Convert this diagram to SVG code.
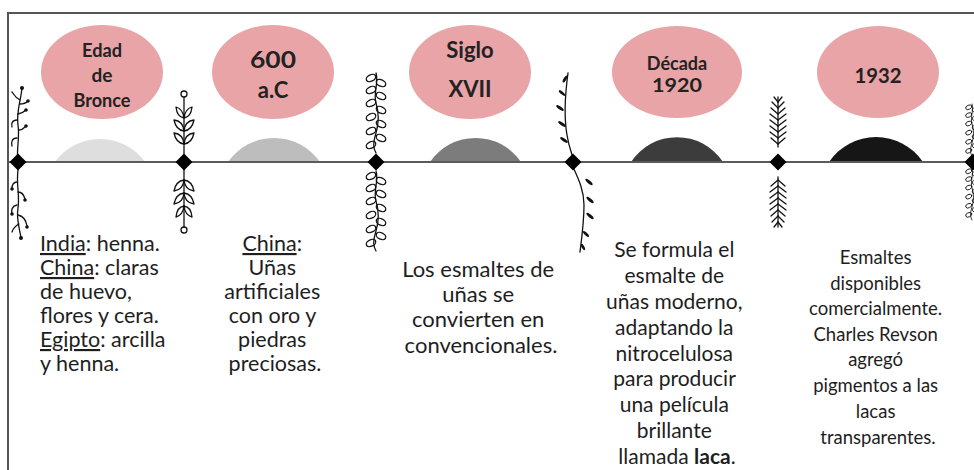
<svg xmlns="http://www.w3.org/2000/svg" width="974" height="470" viewBox="0 0 974 470">
  <style>
    .frame { fill: none; stroke: #555; stroke-width: 2; }
    .bubble { fill: #e9a4a7; }
    .label { font-family: Lato, "Noto Sans", sans-serif; font-weight: 700; fill: #222; text-anchor: middle; }
    .body { font-family: Lato, "Noto Sans", sans-serif; fill: #1e1e1e; }
    .mid { text-anchor: middle; }
    .axis { stroke: #5a5a5a; stroke-width: 1.8; fill: none; }
    .knot { fill: #000; }
    .ink { fill: none; stroke: #111; stroke-width: 1.3; stroke-linecap: round; stroke-linejoin: round; }
    .inkfill { fill: #111; stroke: none; }
    .u { text-decoration: underline; }
  </style>
  <defs>
    <!-- looping vine, drawn downward from 0 to 80 -->
    <g id="vine">
      <path class="ink" d="M0,0 C3,10 -3,20 0,30 S3,50 0,60 S-3,75 0,80"/>
      <ellipse class="ink" cx="-5" cy="5" rx="5" ry="3.2" transform="rotate(-25 -5 5)"/>
      <ellipse class="ink" cx="5" cy="10" rx="5" ry="3.2" transform="rotate(25 5 10)"/>
      <ellipse class="ink" cx="-5" cy="17" rx="5" ry="3.2" transform="rotate(-25 -5 17)"/>
      <ellipse class="ink" cx="5" cy="23" rx="5" ry="3.2" transform="rotate(25 5 23)"/>
      <ellipse class="ink" cx="-5" cy="30" rx="5" ry="3.2" transform="rotate(-25 -5 30)"/>
      <ellipse class="ink" cx="5" cy="37" rx="5" ry="3.2" transform="rotate(25 5 37)"/>
      <ellipse class="ink" cx="-5" cy="44" rx="5" ry="3.2" transform="rotate(-25 -5 44)"/>
      <ellipse class="ink" cx="5" cy="51" rx="5" ry="3.2" transform="rotate(25 5 51)"/>
      <ellipse class="ink" cx="-5" cy="58" rx="5" ry="3.2" transform="rotate(-25 -5 58)"/>
      <ellipse class="ink" cx="5" cy="65" rx="5" ry="3.2" transform="rotate(25 5 65)"/>
      <ellipse class="ink" cx="-5" cy="72" rx="5" ry="3.2" transform="rotate(-25 -5 72)"/>
    </g>
    <!-- leafy sprig growing upward from 0 -->
    <g id="sprig">
      <path class="ink" d="M0,0 V-59"/>
      <circle class="ink" cx="0" cy="-62" r="3"/>
      <path class="ink" d="M0,-12 Q1,-22 10,-23 Q8,-13 0,-12 Z"/>
      <path class="ink" d="M0,-12 Q-1,-22 -10,-23 Q-8,-13 0,-12 Z"/>
      <path class="ink" d="M0,-25 Q1,-35 10,-36 Q8,-26 0,-25 Z"/>
      <path class="ink" d="M0,-25 Q-1,-35 -10,-36 Q-8,-26 0,-25 Z"/>
      <path class="ink" d="M0,-38 Q1,-47 8,-49 Q7,-39 0,-38 Z"/>
      <path class="ink" d="M0,-38 Q-1,-47 -8,-49 Q-7,-39 0,-38 Z"/>
    </g>
    <!-- fern frond growing upward from 0 -->
    <g id="fern">
      <path class="ink" d="M0,0 V-50" stroke-width="1.6"/>
      <g class="ink" stroke-width="3">
        <path d="M0,-3 L-7,-9"/><path d="M0,-3 L7,-9"/>
        <path d="M0,-9 L-8,-15"/><path d="M0,-9 L8,-15"/>
        <path d="M0,-15 L-8,-21"/><path d="M0,-15 L8,-21"/>
        <path d="M0,-21 L-8,-27"/><path d="M0,-21 L8,-27"/>
        <path d="M0,-27 L-8,-33"/><path d="M0,-27 L8,-33"/>
        <path d="M0,-33 L-7,-39"/><path d="M0,-33 L7,-39"/>
        <path d="M0,-39 L-6,-45"/><path d="M0,-39 L6,-45"/>
        <path d="M0,-45 L-4,-50"/><path d="M0,-45 L4,-50"/>
      </g>
    </g>
  </defs>

  <!-- outer frame -->
  <path class="frame" d="M8,470 V13 H974"/>

  <!-- decorative sprigs around the knots -->
  <g id="decor">
    <!-- twig with berries, far left -->
    <g id="twig-left">
      <path class="ink" d="M22,88 C21,100 16,112 18,125 C20,138 16,150 18,162"/>
      <path class="ink" d="M20,100 C15,98 14,94 12,92"/>
      <path class="ink" d="M20,104 C24,104 26,103 28,101"/>
      <path class="ink" d="M18,114 C22,113 24,112 26,110"/>
      <path class="ink" d="M17,120 C12,120 11,124 12,127"/>
      <path class="ink" d="M19,130 C23,130 24,128 26,126"/>
      <path class="ink" d="M17,138 C12,138 11,142 12,146"/>
      <circle class="inkfill" cx="22" cy="88" r="2"/>
      <circle class="inkfill" cx="28" cy="101" r="1.8"/>
      <circle class="inkfill" cx="26" cy="110" r="1.8"/>
      <circle class="inkfill" cx="26" cy="126" r="1.8"/>
      <path class="ink" d="M18,170 C16,185 20,195 18,208 C16,220 20,230 21,238"/>
      <path class="ink" d="M17,182 C13,182 12,186 12,189"/>
      <path class="ink" d="M18,192 C22,192 24,195 25,199"/>
      <path class="ink" d="M17,205 C12,206 11,210 12,214"/>
      <path class="ink" d="M18,215 C23,216 26,220 27,226"/>
      <path class="ink" d="M19,224 C15,226 13,229 12,232"/>
      <circle class="inkfill" cx="12" cy="189" r="1.8"/>
      <circle class="inkfill" cx="25" cy="200" r="1.8"/>
      <circle class="inkfill" cx="12" cy="214" r="1.8"/>
      <circle class="inkfill" cx="27" cy="227" r="1.8"/>
      <circle class="inkfill" cx="21" cy="238" r="2"/>
    </g>
    <!-- leafy sprigs -->
    <use href="#sprig" transform="translate(184,156)"/>
    <use href="#sprig" transform="translate(184,168) scale(1,-1)"/>
    <!-- looping vines -->
    <use href="#vine" transform="translate(376,73)"/>
    <use href="#vine" transform="translate(376,171)"/>
    <!-- slender stem with small leaves -->
    <g id="stem">
      <path class="ink" d="M568,73 C565,95 564,118 567,135 C569,148 572,154 573,158"/>
      <ellipse class="inkfill" cx="565" cy="79" rx="4" ry="1.4" transform="rotate(-60 565 79)"/>
      <ellipse class="inkfill" cx="562" cy="93" rx="4" ry="1.4" transform="rotate(40 562 93)"/>
      <ellipse class="inkfill" cx="560" cy="108" rx="4.5" ry="1.5" transform="rotate(35 560 108)"/>
      <ellipse class="inkfill" cx="562" cy="124" rx="4.5" ry="1.5" transform="rotate(35 562 124)"/>
      <ellipse class="inkfill" cx="564" cy="140" rx="4.5" ry="1.5" transform="rotate(35 564 140)"/>
      <path class="ink" d="M573,167 C578,178 584,190 584,205 C584,222 582,236 580,252"/>
      <ellipse class="inkfill" cx="589" cy="182" rx="4.5" ry="1.5" transform="rotate(40 589 182)"/>
      <ellipse class="inkfill" cx="590" cy="200" rx="4.5" ry="1.5" transform="rotate(40 590 200)"/>
      <ellipse class="inkfill" cx="590" cy="216" rx="4.5" ry="1.5" transform="rotate(40 590 216)"/>
      <ellipse class="inkfill" cx="586" cy="234" rx="4" ry="1.4" transform="rotate(45 586 234)"/>
      <ellipse class="inkfill" cx="583" cy="247" rx="3.5" ry="1.3" transform="rotate(60 583 247)"/>
    </g>
    <!-- fern fronds -->
    <use href="#fern" transform="translate(778,147)"/>
    <use href="#fern" transform="translate(778,177) scale(1,-1)"/>
    <!-- vine at right edge -->
    <use href="#vine" transform="translate(972,104) scale(0.65)"/>
    <use href="#vine" transform="translate(972,168) scale(0.65)"/>
  </g>

  <!-- timeline axis and knots -->
  <g id="connectors">
    <!-- eras (domes sit under the axis) -->
    <path d="M55,162 A55.5,55.5 0 0 1 145,162 Z" fill="#dedede"/>
    <path d="M228,162 A56,56 0 0 1 320,162 Z" fill="#bdbdbd"/>
    <path d="M430,162 A55,55 0 0 1 521,162 Z" fill="#7c7c7c"/>
    <path d="M631,162 A55,55 0 0 1 723,162 Z" fill="#3c3c3c"/>
    <path d="M829,162 A56.7,56.7 0 0 1 923,162 Z" fill="#161616"/>
    <path class="axis" d="M8,162 H974"/>
    <path class="knot" d="M18,153.5 L26.5,162 L18,170.5 L9.5,162 Z"/>
    <path class="knot" d="M184,153.5 L192.5,162 L184,170.5 L175.5,162 Z"/>
    <path class="knot" d="M376,153.5 L384.5,162 L376,170.5 L367.5,162 Z"/>
    <path class="knot" d="M573,153.5 L581.5,162 L573,170.5 L564.5,162 Z"/>
    <path class="knot" d="M778,153.5 L786.5,162 L778,170.5 L769.5,162 Z"/>
    <path class="knot" d="M973,153.5 L981.5,162 L973,170.5 L964.5,162 Z"/>
  </g>

  <!-- period: Bronze Age -->
  <g id="bronce">
    <ellipse class="bubble" cx="102" cy="72" rx="61" ry="47"/>
    <text class="label" font-size="19"><tspan x="102" y="57" textLength="40" lengthAdjust="spacingAndGlyphs">Edad</tspan><tspan x="102" y="82">de</tspan><tspan x="102" y="107" textLength="57" lengthAdjust="spacingAndGlyphs">Bronce</tspan></text>
    <text class="body" font-size="21.5">
      <tspan x="40" y="251"><tspan class="u">India</tspan>: henna.</tspan>
      <tspan x="40" y="275"><tspan class="u">China</tspan>: claras</tspan>
      <tspan x="40" y="299">de huevo,</tspan>
      <tspan x="40" y="323">flores y cera.</tspan>
      <tspan x="40" y="347"><tspan class="u">Egipto</tspan>: arcilla</tspan>
      <tspan x="40" y="371">y henna.</tspan>
    </text>
  </g>

  <!-- period: 600 BC -->
  <g id="ac600">
    <ellipse class="bubble" cx="273" cy="72" rx="61" ry="47"/>
    <text class="label" font-size="22"><tspan x="273" y="68" textLength="46" lengthAdjust="spacingAndGlyphs">600</tspan><tspan x="273" y="98">a.C</tspan></text>
    <text class="body mid" font-size="21.5">
      <tspan x="275" y="251"><tspan class="u">China</tspan>:</tspan>
      <tspan x="275" y="275">Uñas</tspan>
      <tspan x="275" y="299">artificiales</tspan>
      <tspan x="275" y="323">con oro y</tspan>
      <tspan x="275" y="347">piedras</tspan>
      <tspan x="275" y="371">preciosas.</tspan>
    </text>
  </g>

  <!-- period: 17th century -->
  <g id="siglo17">
    <ellipse class="bubble" cx="470" cy="72" rx="61" ry="47"/>
    <text class="label" font-size="22"><tspan x="470" y="58">Siglo</tspan><tspan x="470" y="97">XVII</tspan></text>
    <text class="body mid" font-size="22">
      <tspan x="481" y="277">Los esmaltes de</tspan>
      <tspan x="481" y="302">uñas se</tspan>
      <tspan x="481" y="327">convierten en</tspan>
      <tspan x="481" y="353">convencionales.</tspan>
    </text>
  </g>

  <!-- period: 1920s -->
  <g id="decada1920">
    <ellipse class="bubble" cx="677" cy="72" rx="65" ry="46"/>
    <text class="label" font-size="18"><tspan x="677" y="70">Década</tspan><tspan x="677" y="92" textLength="50" lengthAdjust="spacingAndGlyphs">1920</tspan></text>
    <text class="body mid" font-size="21">
      <tspan x="677" y="257">Se formula el</tspan>
      <tspan x="677" y="283">esmalte de</tspan>
      <tspan x="677" y="309">uñas moderno,</tspan>
      <tspan x="677" y="335">adaptando la</tspan>
      <tspan x="677" y="361">nitrocelulosa</tspan>
      <tspan x="677" y="386">para producir</tspan>
      <tspan x="677" y="412">una película</tspan>
      <tspan x="677" y="438">brillante</tspan>
      <tspan x="677" y="464">llamada <tspan font-weight="700">laca</tspan>.</tspan>
    </text>
  </g>

  <!-- period: 1932 -->
  <g id="y1932">
    <ellipse class="bubble" cx="878" cy="72" rx="61" ry="46"/>
    <text class="label" font-size="21"><tspan x="878" y="83" textLength="47" lengthAdjust="spacingAndGlyphs">1932</tspan></text>
    <text class="body mid" font-size="18.5">
      <tspan x="878" y="264">Esmaltes</tspan>
      <tspan x="878" y="290">disponibles</tspan>
      <tspan x="878" y="315">comercialmente.</tspan>
      <tspan x="878" y="341">Charles Revson</tspan>
      <tspan x="878" y="366">agregó</tspan>
      <tspan x="878" y="392">pigmentos a las</tspan>
      <tspan x="878" y="418">lacas</tspan>
      <tspan x="878" y="444">transparentes.</tspan>
    </text>
  </g>
</svg>
